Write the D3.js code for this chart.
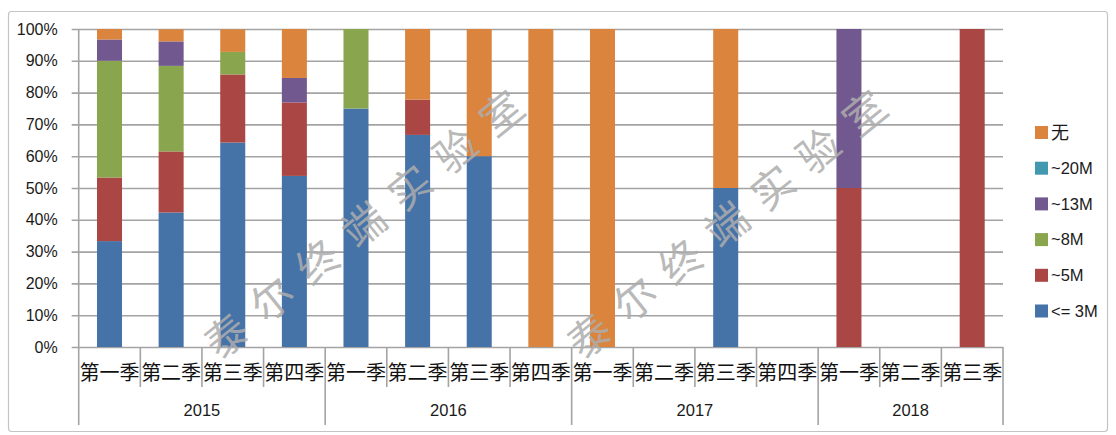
<!DOCTYPE html>
<html>
<head>
<meta charset="utf-8">
<script src="https://cdn.jsdelivr.net/npm/d3@7"></script>
<style>
  body { margin: 0; background: #fff; }
  svg { display: block; }
</style>
</head>
<body>
<div id="chart"></div>
<script>
// quarters, grouped by year
const years = ["2015", "2016", "2017", "2018"];
const quarterNames = ["第一季", "第二季", "第三季", "第四季"];
const quartersPerYear = [4, 4, 4, 3];
const yTicks = [0, 0.1, 0.2, 0.3, 0.4, 0.5, 0.6, 0.7, 0.8, 0.9, 1];

// share per quarter, in percent
const le3M  = [33.3, 42.3, 64.3, 53.8, 75, 66.7, 60, 0, 0, 0, 50, 0, 0, 0, 0];
const m5    = [20, 19.2, 21.4, 23.1, 0, 11.1, 0, 0, 0, 0, 0, 0, 50, 0, 100];
const m8    = [36.7, 26.9, 7.1, 0, 25, 0, 0, 0, 0, 0, 0, 0, 0, 0, 0];
const m13   = [6.7, 7.7, 0, 7.7, 0, 0, 0, 0, 0, 0, 0, 0, 50, 0, 0];
const m20   = [0, 0, 0, 0, 0, 0, 0, 0, 0, 0, 0, 0, 0, 0, 0];
const none  = [3.3, 3.8, 7.1, 15.4, 0, 22.2, 40, 100, 100, 0, 50, 0, 0, 0, 0];

const seriesNames = ["<= 3M", "~5M", "~8M", "~13M", "~20M", "无"];
const seriesValues = [le3M, m5, m8, m13, m20, none];
const colors = ["#4572A7", "#AA4643", "#89A54E", "#71588F", "#4198AF", "#DB843D"];

const W = 1116, H = 435;
const plotLeft = 78.7, plotRight = 1003, plotTop = 29, plotBottom = 347;

const cats = [];
years.forEach((y, i) => {
  for (let q = 0; q < quartersPerYear[i]; q++) cats.push({ key: y + "-" + q, year: y, q: quarterNames[q] });
});

const rows = cats.map((c, i) => {
  const r = { key: c.key };
  seriesNames.forEach((s, j) => r[s] = seriesValues[j][i] / 100);
  return r;
});

const svg = d3.select("#chart").append("svg")
  .attr("width", W)
  .attr("height", H);

// chart frame
svg.append("rect")
  .attr("x", 8.5).attr("y", 11.5)
  .attr("width", 1099).attr("height", 420)
  .attr("rx", 3)
  .style("fill", "none")
  .style("stroke", "#c4c4c4")
  .style("stroke-width", 1.2);

const x = d3.scaleBand()
  .domain(cats.map(c => c.key))
  .range([plotLeft, plotRight])
  .paddingInner(0.594)
  .paddingOuter(0.297);

const y = d3.scaleLinear().domain([0, 1]).range([plotBottom, plotTop]);

// gridlines + y labels (ticks stick out 7px left of the axis)
const yAxis = d3.axisLeft(y)
  .tickValues(yTicks)
  .tickFormat(d3.format(".0%"))
  .tickSize(-(plotRight - plotLeft + 7))
  .tickPadding(14);

const gy = svg.append("g")
  .attr("transform", "translate(" + (plotLeft - 7) + ",0)")
  .call(yAxis);
gy.select(".domain").remove();
gy.selectAll(".tick line")
  .style("stroke", "#a3a3a3")
  .style("stroke-width", 1.6);
gy.selectAll(".tick text")
  .style("font-family", "Liberation Sans, Arial, sans-serif")
  .style("font-size", "16px")
  .style("fill", "#1a1a1a");

// stacked bars
const stack = d3.stack().keys(seriesNames);
const layers = stack(rows);

svg.append("g").selectAll("g")
  .data(layers)
  .join("g")
  .style("fill", (d, i) => colors[i])
  .selectAll("rect")
  .data(d => d.filter(p => p[1] - p[0] > 0))
  .join("rect")
  .attr("x", d => x(d.data.key))
  .attr("width", x.bandwidth())
  .attr("y", d => y(d[1]))
  .attr("height", d => y(d[0]) - y(d[1]));

// category axis: lines
const step = x.step();
const axisG = svg.append("g")
  .style("stroke", "#a3a3a3")
  .style("stroke-width", 1.6);

axisG.append("line")
  .attr("x1", plotLeft).attr("x2", plotLeft)
  .attr("y1", plotTop).attr("y2", 425);

const yearEdges = [];
let acc = 0;
quartersPerYear.forEach(n => { acc += n; yearEdges.push(acc); });

cats.forEach((c, i) => {
  const edge = i + 1;
  const isYear = yearEdges.includes(edge);
  const ex = x(c.key) - step * 0.297 + step;
  axisG.append("line")
    .attr("x1", ex)
    .attr("x2", ex)
    .attr("y1", plotBottom)
    .attr("y2", isYear ? 425 : 387);
});

// quarter labels
svg.append("g").selectAll("text")
  .data(cats)
  .join("text")
  .attr("x", d => x(d.key) + x.bandwidth() / 2)
  .attr("y", 373)
  .attr("dy", "0.35em")
  .attr("text-anchor", "middle")
  .style("font-family", "Noto Sans CJK SC, sans-serif")
  .style("font-size", "20px")
  .style("fill", "#111")
  .text(d => d.q);

// year labels
let start = 0;
years.forEach((yr, i) => {
  const first = cats[start].key;
  const last = cats[start + quartersPerYear[i] - 1].key;
  const cx = (x(first) + x(last) + x.bandwidth()) / 2;
  svg.append("text")
    .attr("x", cx)
    .attr("y", 410)
    .attr("dy", "0.35em")
    .attr("text-anchor", "middle")
    .style("font-family", "Liberation Sans, Arial, sans-serif")
    .style("font-size", "16.5px")
    .style("fill", "#1a1a1a")
    .text(yr);
  start += quartersPerYear[i];
});

// legend, top entry is the last series
const legend = svg.append("g");
const legendItems = seriesNames.map((s, i) => ({ name: s, color: colors[i] })).reverse();
const ly = d3.scalePoint().domain(legendItems.map(d => d.name)).range([132.5, 311]);

legend.selectAll("rect")
  .data(legendItems)
  .join("rect")
  .attr("x", 1035)
  .attr("y", d => ly(d.name) - 6.5)
  .attr("width", 13)
  .attr("height", 13)
  .style("fill", d => d.color);

legend.selectAll("text")
  .data(legendItems)
  .join("text")
  .attr("x", 1051)
  .attr("y", d => ly(d.name))
  .attr("dy", "0.35em")
  .style("font-family", d => d.name === "无" ? "Noto Sans CJK SC, sans-serif" : "Liberation Sans, Arial, sans-serif")
  .style("font-size", d => d.name === "无" ? "18px" : "16.5px")
  .style("fill", "#1a1a1a")
  .text(d => d.name);

// watermark
const marks = [[371, 220], [734, 220]];
svg.append("g").selectAll("text")
  .data(marks)
  .join("text")
  .attr("transform", d => "translate(" + d[0] + "," + d[1] + ") rotate(-39)")
  .attr("text-anchor", "middle")
  .attr("dy", "0.35em")
  .style("font-family", "Noto Sans CJK SC, sans-serif")
  .style("font-size", "42px")
  .style("letter-spacing", "17px")
  .style("fill", "#adadad")
  .style("fill-opacity", 0.85)
  .text("泰尔终端实验室");
</script>
</body>
</html>
